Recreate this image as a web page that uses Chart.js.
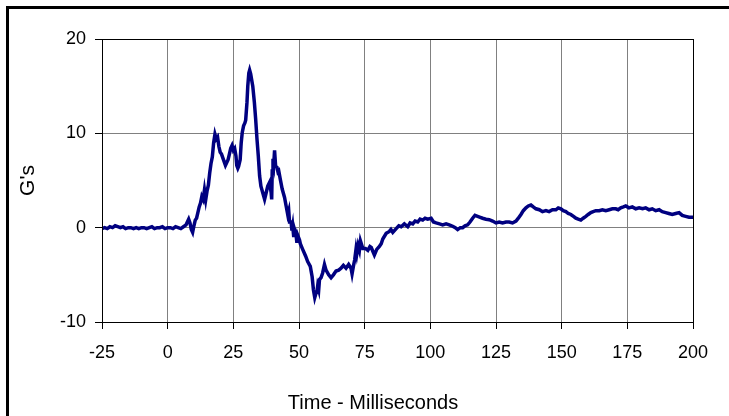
<!DOCTYPE html>
<html>
<head>
<meta charset="utf-8">
<script src="https://cdn.jsdelivr.net/npm/chart.js@4.4.1/dist/chart.umd.min.js"></script>
<style>
  html, body { margin: 0; padding: 0; background: #fff; }
  #wrap { position: relative; width: 729px; height: 416px; overflow: hidden; }
  #frame { position: absolute; left: 6px; top: 6px; width: 730px; height: 420px;
           border-left: 3px solid #000; border-top: 3px solid #000; box-sizing: border-box; pointer-events: none; }
  canvas { position: absolute; left: 0; top: 0; }
</style>
</head>
<body>
<div id="wrap">
  <canvas id="c" width="729" height="416"></canvas>
  <div id="frame"></div>
</div>
<script>
const xTitle = "Time - Milliseconds";
const yTitle = "G's";
const xTicks = [-25, 0, 25, 50, 75, 100, 125, 150, 175, 200];
const yTicks = [-10, 0, 10, 20];

const timeMs = [
  -25,-24,-23,-22,-21,-20,-19,-18,-17,-16,-15,-14,-13,-12,-11,-10,-9,-8,-7,-6,-5,-4,-3,-2,-1,
  0,1,2,3,4,5,6,7,8,8.5,9,9.5,10,10.5,11,11.5,12,12.5,13,13.5,14,14.5,15,15.5,16,16.5,17,17.5,18,18.5,19,19.5,
  20,20.5,21,21.5,22,22.5,23,23.5,24,24.5,25,25.5,26,26.3,26.7,27,27.6,28,28.4,28.9,29.4,29.7,
  30.2,30.5,30.9,31.2,31.6,31.9,32.4,33.0,33.5,34.0,34.5,35.0,35.5,36.2,36.9,37.5,38.1,38.8,39.4,39.6,39.8,
  40.1,40.4,40.7,41.1,41.6,42.0,42.3,42.9,43.6,44.5,45.1,45.7,46.1,46.4,47.0,47.3,47.6,48.0,48.3,48.9,49.2,49.5,
  50.2,50.5,51.4,52.5,53.3,54.3,55.0,55.5,56.0,56.4,56.8,57.1,57.5,57.8,58.4,59.0,59.7,
  60.3,61.3,62.2,63.1,64.1,65.1,66.0,66.9,67.9,68.9,69.8,70.2,70.7,71.2,71.7,72.0,72.5,73.0,73.4,74.3,
  75.3,76.2,77.0,77.5,78.7,79.6,80.6,81.3,81.9,83.2,84.4,85.0,85.7,87.0,88.0,88.9,
  90.1,91.4,92.3,93.3,94.2,95.2,96.1,97.1,98.0,99.0,100.3,101.2,102.2,103.5,104.7,106.0,107.2,108.5,109.5,
  110.4,111.4,112.3,113.2,114.2,115.1,116.1,117.0,118.0,119.0,119.9,121.2,122.4,123.7,125.0,126.2,127.5,128.8,
  130.0,131.3,132.6,133.5,134.5,135.4,136.4,137.3,138.3,139.2,140.2,141.5,142.7,144.0,145.2,146.5,147.8,148.7,149.7,
  150.6,151.6,152.5,153.5,154.5,155.4,156.3,157.3,158.2,159.2,160.1,161.1,162.0,163.0,164.3,165.5,166.8,168.1,169.3,
  170.6,171.5,172.5,173.5,174.4,175.6,176.9,178.2,179.5,180.8,182.0,183.3,184.5,185.8,187.1,188.3,189.6,
  190.8,192.1,193.4,194.7,195.9,197.2,198.5,200
];
const gValues = [
  -0.1,0.0,-0.1,0.1,0.0,0.2,0.1,0.0,0.1,-0.1,0.0,0.0,-0.1,0.0,-0.1,0.0,0.0,-0.1,0.0,0.1,-0.1,0.0,0.0,0.1,-0.1,
  0.0,0.0,-0.1,0.1,0.0,-0.1,0.1,0.3,0.9,0.5,-0.2,-0.5,0.2,0.8,1.0,1.6,2.2,2.6,3.3,3.0,4.0,3.0,3.9,4.5,5.8,6.8,7.5,9.0,9.9,9.4,9.6,8.6,
  8.0,7.8,7.4,7.0,6.6,6.9,7.2,7.8,8.4,8.7,8.2,8.4,7.6,6.6,6.3,6.5,7.2,9.0,10.1,10.8,11.1,11.4,
  13.3,15.0,16.4,16.7,16.3,15.8,15.0,13.3,11.5,9.4,7.6,5.5,4.4,3.7,3.0,3.7,4.4,4.8,3.7,3.0,6.0,
  7.3,6.8,8.2,6.5,6.4,5.9,6.0,5.1,4.1,3.2,2.3,1.4,1.8,0.6,0.6,-0.3,0.2,-1.0,-0.2,-0.8,-1.6,-0.8,
  -1.3,-1.7,-2.3,-3.0,-3.6,-4.1,-5.2,-6.6,-7.4,-7.0,-6.9,-6.2,-6.6,-5.5,-5.3,-4.8,-3.9,
  -4.5,-5.0,-5.3,-5.0,-4.6,-4.5,-4.3,-4.0,-4.3,-3.9,-4.3,-4.9,-4.1,-3.4,-2.3,-2.8,-1.9,-2.4,-1.4,-2.2,
  -2.2,-2.4,-2.0,-2.1,-2.9,-2.3,-2.0,-1.7,-1.2,-0.6,-0.4,-0.2,-0.5,-0.1,0.2,0.1,
  0.4,0.1,0.5,0.4,0.7,0.6,0.9,0.8,1.0,0.9,1.0,0.6,0.5,0.4,0.3,0.4,0.3,0.15,0.0,
  -0.2,0.0,0.0,0.2,0.3,0.6,1.0,1.3,1.2,1.1,1.0,0.9,0.85,0.7,0.5,0.6,0.5,0.6,
  0.6,0.5,0.7,1.0,1.4,1.8,2.1,2.3,2.4,2.2,2.0,1.9,1.7,1.8,1.7,1.9,1.9,2.1,2.0,
  1.8,1.7,1.5,1.4,1.2,1.0,0.9,0.8,1.0,1.2,1.4,1.6,1.7,1.8,1.8,1.9,1.8,1.9,2.0,
  2.0,1.9,2.1,2.2,2.3,2.1,2.2,2.0,2.1,2.0,2.1,1.9,2.0,1.8,1.9,1.7,1.6,
  1.5,1.4,1.5,1.6,1.3,1.2,1.1,1.1
];

const points = timeMs.map((t, i) => ({ x: t, y: gValues[i] }));
const FONT = "'Liberation Sans', Arial, sans-serif";

const frameBox = {
  id: 'frameBox',
  afterDraw(chart) {
    const a = chart.chartArea, ctx = chart.ctx;
    ctx.save();
    ctx.strokeStyle = '#000';
    ctx.lineWidth = 1;
    ctx.strokeRect(Math.round(a.left) + 0.5, Math.round(a.top) + 0.5,
                   Math.round(a.right - a.left), Math.round(a.bottom - a.top));
    // x-axis title (offset left of the plot centre, as in the original)
    ctx.fillStyle = '#000';
    ctx.font = "20px " + FONT;
    ctx.textAlign = 'center';
    ctx.textBaseline = 'middle';
    ctx.fillText(xTitle, 373, 403);
    ctx.restore();
  }
};

new Chart(document.getElementById('c'), {
  type: 'line',
  data: {
    datasets: [{
      data: points,
      borderColor: '#000080',
      borderWidth: 3.5,
      pointRadius: 0,
      tension: 0,
      fill: false
    }]
  },
  options: {
    responsive: false,
    animation: false,
    devicePixelRatio: 1,
    layout: { padding: { top: 39, right: 36, left: 0, bottom: 0 } },
    plugins: { legend: { display: false }, tooltip: { enabled: false } },
    scales: {
      x: {
        type: 'linear',
        min: -25, max: 200,
        afterBuildTicks(s) { s.ticks = xTicks.map(v => ({ value: v })); },
        afterFit(s) { s.height = 94; },
        grid: { color: '#808080', lineWidth: 1, tickLength: 7, tickColor: '#000', drawTicks: true },
        border: { color: '#000', width: 1 },
        ticks: { color: '#000', font: { family: FONT, size: 18 }, padding: 13, maxRotation: 0 },
        title: { display: false }
      },
      y: {
        type: 'linear',
        min: -10, max: 20,
        afterBuildTicks(s) { s.ticks = yTicks.map(v => ({ value: v })); },
        afterFit(s) { s.width = 102; },
        grid: { color: '#808080', lineWidth: 1, tickLength: 7, tickColor: '#000', drawTicks: true },
        border: { color: '#000', width: 1 },
        ticks: { color: '#000', font: { family: FONT, size: 18 }, padding: 9 },
        title: { display: true, text: yTitle, color: '#000', font: { family: FONT, size: 21 }, padding: { top: 16, bottom: 0 } }
      }
    }
  },
  plugins: [frameBox]
});
</script>
</body>
</html>
